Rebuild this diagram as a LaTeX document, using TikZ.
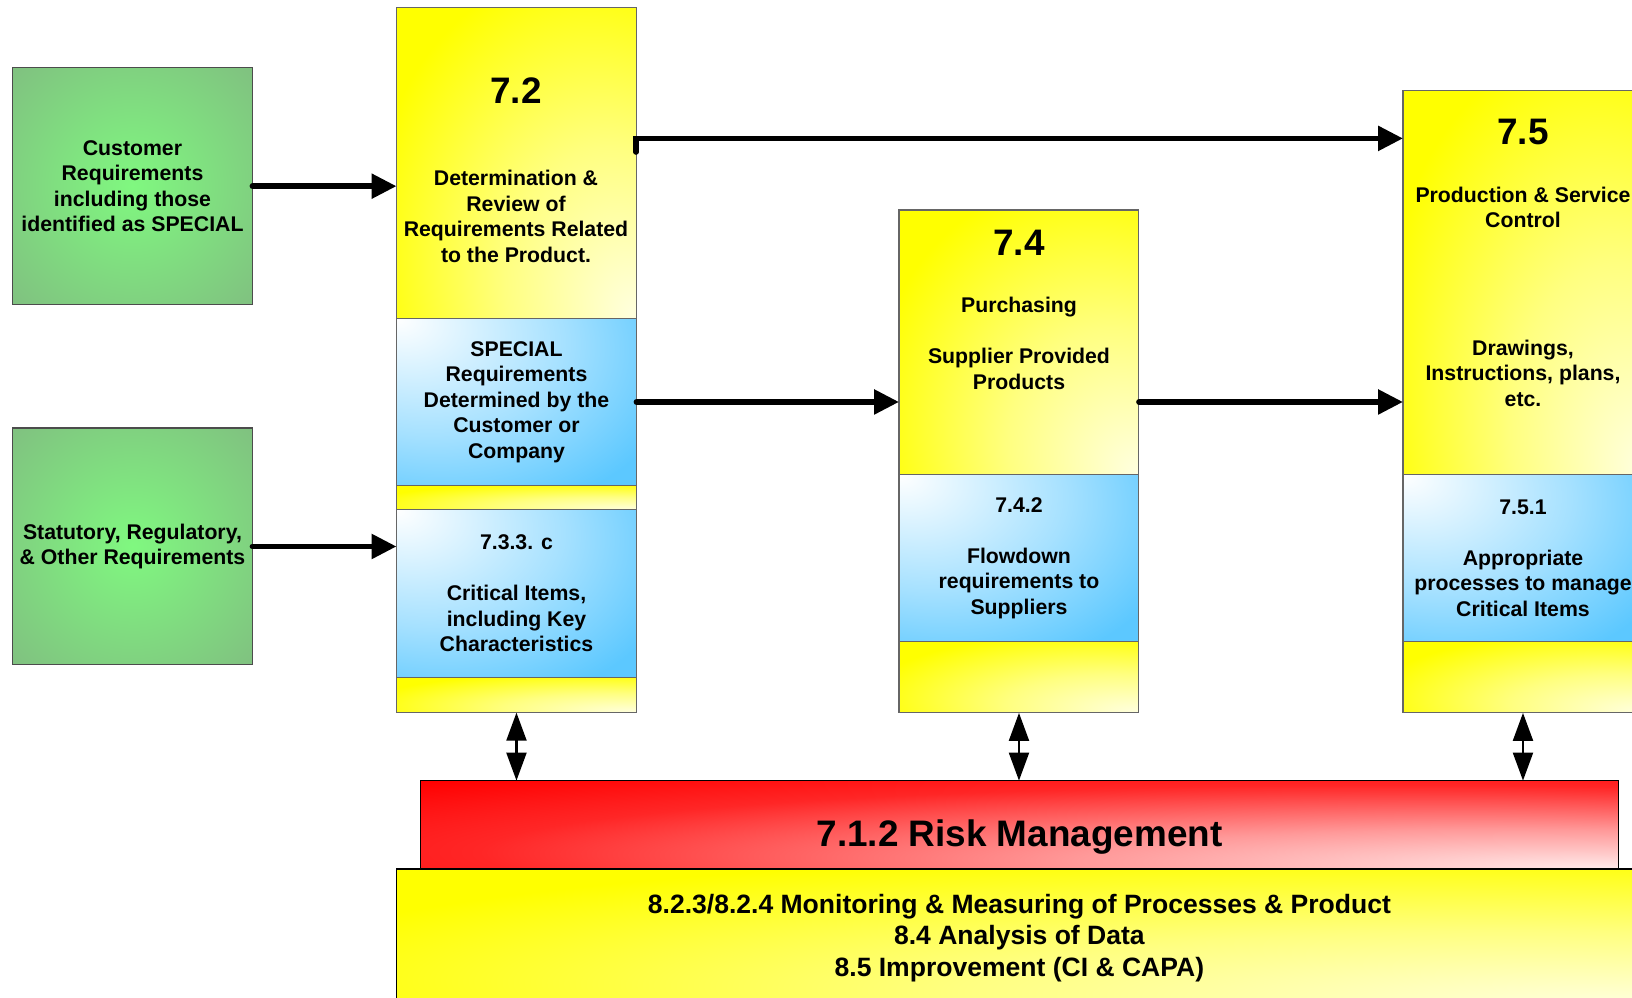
\documentclass[tikz,border=0pt]{standalone}
\usepackage{fontspec}
\setmainfont{Liberation Sans}
\usetikzlibrary{arrows.meta,positioning}

\definecolor{grlight}{HTML}{80F880}
\definecolor{grdark}{HTML}{80C080}
\definecolor{skyblue}{HTML}{5CC8FF}
\definecolor{yelpale}{HTML}{FFFFE0}
\pgfdeclareradialshading{greenglow}{\pgfpoint{0bp}{0bp}}{color(0bp)=(grlight); color(36bp)=(grdark); color(100bp)=(grdark)}
\pgfdeclareradialshading{yelfade}{\pgfpoint{25bp}{-25bp}}{color(0bp)=(yelpale); color(22bp)=(yellow!50!white); color(45bp)=(yellow); color(100bp)=(yellow)}
\pgfdeclareradialshading{bluefade}{\pgfpoint{-25bp}{25bp}}{color(0bp)=(white); color(28bp)=(skyblue!55!white); color(48bp)=(skyblue); color(100bp)=(skyblue)}
\pgfdeclareradialshading{redfade}{\pgfpoint{25bp}{-25bp}}{color(0bp)=(red!8!white); color(18bp)=(red!40!white); color(38bp)=(red!85!white); color(52bp)=(red); color(100bp)=(red)}

\begin{document}
\begin{tikzpicture}[x=0.02cm,y=-0.02cm,
    txt/.style={font=\bfseries\fontsize{12.1}{14.5}\selectfont, align=center},
    big/.style={font=\bfseries\fontsize{21}{25}\selectfont},
    box/.style={draw=black!60, line width=0.6pt, minimum width=4.8cm, inner sep=0pt, outer sep=0pt, anchor=north west},
    gbox/.style={box, draw=black!70, shade, shading=greenglow, txt},
    ybox/.style={box, shade, shading=yelfade},
    bbox/.style={box, shade, shading=bluefade, txt},
    flow/.style={line width=3.2pt, line cap=round, -{Triangle[length=0.5cm,width=0.48cm]}},
    dbl/.style={line width=1.2pt, {Triangle[length=0.56cm,width=0.4cm]}-{Triangle[length=0.56cm,width=0.4cm]}}]
  \useasboundingbox (0,0) rectangle (1632,997);
  \clip (0,0) rectangle (1632,997);

  % inputs
  \node[gbox, minimum height=4.74cm] (cust) at (12.5,67.7) {Customer\\Requirements\\including those\\identified as SPECIAL};
  \node[gbox, minimum height=4.74cm] (stat) at (12.5,428) {Statutory, Regulatory,\\\& Other Requirements};

  % 7.2
  \node[ybox, minimum height=6.22cm] (y72) at (396.5,7.3) {};
  \node[bbox, minimum height=3.35cm, below=0pt of y72] (b72a) {SPECIAL\\Requirements\\Determined by the\\Customer or\\Company};
  \node[ybox, minimum height=0.48cm, below=0pt of b72a] (s72) {};
  \node[bbox, minimum height=3.35cm, below=0pt of s72] (b72b) {7.3.3. c\\[14.5pt]Critical Items,\\including Key\\Characteristics};
  \node[ybox, minimum height=0.71cm, below=0pt of b72b] (f72) {};
  \node[big] (n72) at (516,90.5) {7.2};
  \node[txt] (d72) at (516,216.5) {Determination \&\\Review of\\Requirements Related\\to the Product.};

  % 7.4
  \node[ybox, minimum height=5.29cm] (y74) at (899,210) {};
  \node[bbox, minimum height=3.35cm, below=0pt of y74] (b74) {7.4.2\\[14.5pt]Flowdown\\requirements to\\Suppliers};
  \node[ybox, minimum height=1.42cm, below=0pt of b74] (f74) {};
  \node[big] (n74) at (1019,242.5) {7.4};
  \node[txt] (d74) at (1019,343.5) {Purchasing\\[14.5pt]Supplier Provided\\Products};

  % 7.5
  \node[ybox, minimum height=7.68cm] (y75) at (1403,90.5) {};
  \node[bbox, minimum height=3.35cm, below=0pt of y75] (b75) {7.5.1\\[14.5pt]Appropriate\\processes to manage\\Critical Items};
  \node[ybox, minimum height=1.42cm, below=0pt of b75] (f75) {};
  \node[big] (n75) at (1523,132) {7.5};
  \node[txt] (p75) at (1523,207.5) {Production \& Service\\Control};
  \node[txt] (d75) at (1523,373) {Drawings,\\Instructions, plans,\\etc.};

  % risk and base
  \node[box, draw=black, shade, shading=redfade, minimum width=23.96cm, minimum height=1.77cm] (risk) at (420.5,780.6) {};
  \node[big, anchor=base] (rt) at (1019.5,846) {7.1.2 Risk Management};
  \node[box, draw=black, shade, shading=yelfade, minimum width=24.92cm, minimum height=2.76cm,
        font=\bfseries\fontsize{15.1}{18}\selectfont, align=center] (base) at (396.5,869)
        {8.2.3/8.2.4 Monitoring \& Measuring of Processes \& Product\\8.4 Analysis of Data\\8.5 Improvement (CI \& CAPA)};

  % connectors
  \coordinate (k72) at (636,152);
  \coordinate (k75) at (1403,138.4);
  \draw[flow] (cust.east) -- (cust.east -| y72.west);
  \draw[flow] (stat.east) -- (stat.east -| b72b.west);
  \draw[flow] (k72) |- (k75);
  \draw[flow] (b72a.east) -- (b72a.east -| y74.west);
  \draw[flow] (b72a.east -| y74.east) -- (b72a.east -| y75.west);
  \draw[dbl] (f72.south) -- (f72.south |- risk.north);
  \draw[dbl] (f74.south) -- (f74.south |- risk.north);
  \draw[dbl] (f75.south) -- (f75.south |- risk.north);
\end{tikzpicture}
\end{document}
